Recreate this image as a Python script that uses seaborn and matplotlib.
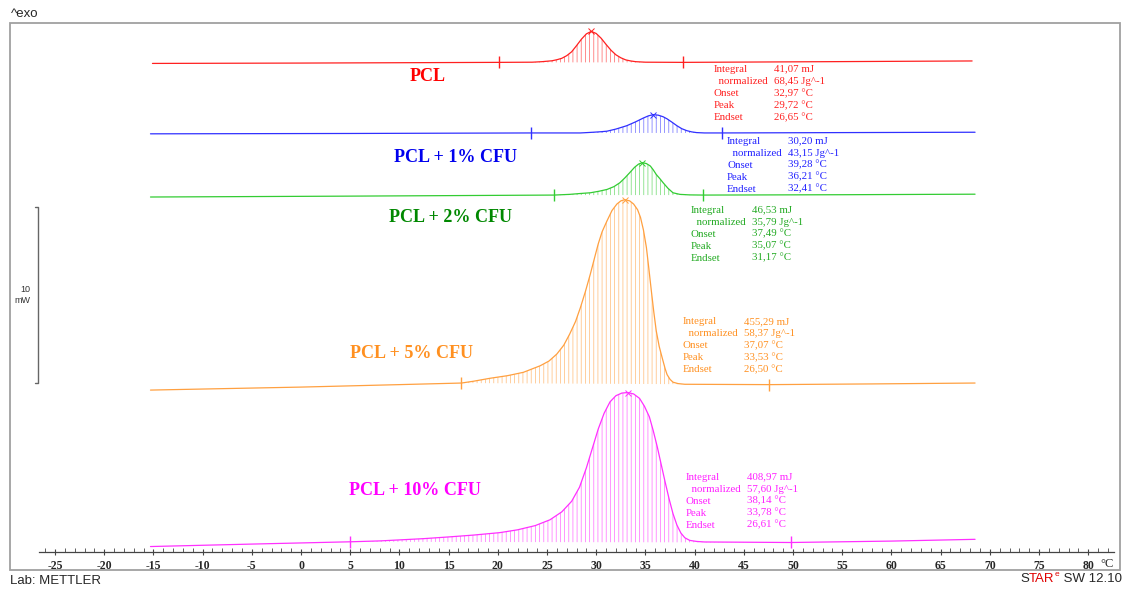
import numpy as np
import pandas as pd
import matplotlib
matplotlib.use('Agg')
import matplotlib.pyplot as plt
import matplotlib.colors as mcolors
from matplotlib.patches import Rectangle
from matplotlib.ticker import MultipleLocator
import seaborn as sns

# ============================================================
# DATA  (temperature in °C, heat flow in mW, stacked by offset)
# ============================================================
names = ['PCL', 'PCL + 1% CFU', 'PCL + 2% CFU', 'PCL + 5% CFU', 'PCL + 10% CFU']
line_colors = ['#ff2020', '#3030ff', '#33cc33', '#ffa040', '#ff30ff']
label_colors = ['#ff0000', '#0000ee', '#008800', '#ff9020', '#ff00ff']
table_colors = ['#ff2020', '#2020ff', '#22aa22', '#ff9020', '#ff20ff']

offsets = [27.82, 23.81, 20.28, 9.57, 0.57]

T_red = [-15.1, 0, 15, 20.1, 23.5, 24.5, 25.5, 26.0, 26.5, 27.0, 27.5, 28.0, 28.5, 29.0,
         29.5, 30.0, 30.5, 31.0, 31.5, 32.0, 32.5, 33.0, 33.5, 34.0, 35.0, 38.8, 50, 68.2]
hf_red = [-0.06, -0.04, -0.01, 0.0, 0.01, 0.04, 0.09, 0.15, 0.23, 0.38, 0.60, 0.95, 1.32, 1.62,
          1.76, 1.64, 1.37, 1.02, 0.69, 0.43, 0.26, 0.14, 0.08, 0.04, 0.01, 0.0, 0.03, 0.08]

T_blue = [-15.3, 5, 23.4, 28.4, 29.7, 30.5, 31.1, 32.0, 33.1, 34.0, 34.8, 35.3, 35.8, 36.3,
          36.8, 37.2, 37.7, 38.2, 38.7, 39.2, 39.7, 40.2, 41.0, 42.8, 55, 68.5]
hf_blue = [-0.05, -0.03, 0.0, 0.0, 0.04, 0.07, 0.10, 0.22, 0.41, 0.63, 0.85, 0.97, 1.04, 1.01,
           0.92, 0.80, 0.61, 0.41, 0.24, 0.13, 0.06, 0.02, 0.0, 0.0, 0.02, 0.04]

T_green = [-15.3, 5, 25.7, 27.3, 28.4, 29.4, 30.3, 31.1, 31.8, 32.4, 32.9, 33.4, 33.9, 34.3,
           34.7, 35.1, 35.5, 35.8, 36.1, 36.5, 36.8, 37.3, 37.8, 38.5, 39.5, 40.9, 55, 68.5]
hf_green = [-0.11, -0.06, 0.0, 0.04, 0.09, 0.13, 0.22, 0.32, 0.48, 0.70, 0.97, 1.27, 1.58, 1.76,
            1.84, 1.79, 1.65, 1.43, 1.17, 0.91, 0.70, 0.38, 0.13, 0.04, 0.01, 0.0, 0.02, 0.05]

T_orange = [-15.3, 0, 10, 16.3, 17.5, 19.2, 21.0, 22.6, 24.3, 25.2, 26.0, 26.7, 27.3, 27.9,
            28.4, 28.9, 29.4, 29.8, 30.2, 30.6, 31.1, 31.6, 32.1, 32.5, 32.9, 33.4, 33.8, 34.2,
            34.5, 34.8, 35.1, 35.35, 35.6, 35.85, 36.1, 36.4, 36.7, 37.0, 37.2, 37.5, 37.8,
            38.3, 39.0, 47.6, 58, 68.5]
hf_orange = [-0.37, -0.2, -0.06, 0.03, 0.13, 0.30, 0.45, 0.64, 1.01, 1.28, 1.68, 2.18, 2.81, 3.53,
             4.33, 5.23, 6.22, 7.08, 7.93, 8.63, 9.25, 9.83, 10.2, 10.38, 10.45, 10.38, 10.2, 9.88,
             9.44, 8.72, 7.73, 6.52, 5.27, 4.07, 2.99, 2.11, 1.47, 0.85, 0.51, 0.24, 0.08,
             0.0, -0.04, -0.06, -0.02, 0.03]

T_mag = [-15.3, -5, 5.0, 8, 10.1, 12.5, 15.1, 17.5, 20.2, 22, 23.8, 25.3, 26.5, 27.5, 28.3,
         29.0, 29.6, 30.2, 30.8, 31.4, 32.0, 32.6, 33.2, 33.8, 34.4, 34.9, 35.4, 35.8, 36.2,
         36.6, 37.0, 37.4, 37.8, 38.2, 38.6, 39.0, 39.5, 40.2, 41, 49.8, 60, 68.5]
hf_mag = [-0.26, -0.12, 0.01, 0.06, 0.12, 0.19, 0.29, 0.39, 0.53, 0.69, 0.93, 1.26, 1.71, 2.31, 3.11,
          4.21, 5.31, 6.41, 7.31, 7.96, 8.31, 8.46, 8.49, 8.41, 8.16, 7.71, 7.11, 6.31, 5.41,
          4.41, 3.41, 2.46, 1.61, 0.96, 0.51, 0.24, 0.09, 0.03, 0.0, -0.03, 0.05, 0.15]

temps = [T_red, T_blue, T_green, T_orange, T_mag]
flows = [hf_red, hf_blue, hf_green, hf_orange, hf_mag]

# integration limits and peak temperature (°C)
limits = [(20.1, 38.8), (23.4, 42.8), (25.7, 40.9), (16.3, 47.6), (5.0, 49.8)]
peaks = [29.5, 35.8, 34.7, 32.9, 33.2]

table_keys = ['Integral', '  normalized', 'Onset', 'Peak', 'Endset']
table_vals = [
    ['41,07 mJ', '68,45 Jg^-1', '32,97 °C', '29,72 °C', '26,65 °C'],
    ['30,20 mJ', '43,15 Jg^-1', '39,28 °C', '36,21 °C', '32,41 °C'],
    ['46,53 mJ', '35,79 Jg^-1', '37,49 °C', '35,07 °C', '31,17 °C'],
    ['455,29 mJ', '58,37 Jg^-1', '37,07 °C', '33,53 °C', '26,50 °C'],
    ['408,97 mJ', '57,60 Jg^-1', '38,14 °C', '33,78 °C', '26,61 °C'],
]
# label and table anchors (°C, mW)
name_pos = [(12.9, 27.0), (15.7, 22.4), (15.2, 19.0), (11.2, 11.3), (11.6, 3.5)]
table_pos = [(41.9, 27.44), (43.3, 23.35), (39.6, 19.43), (38.8, 13.07), (39.1, 4.26)]


def lighten(c, amount):
    rgb = np.array(mcolors.to_rgb(c))
    return tuple(rgb + (1 - rgb) * amount)


# ============================================================
# FIGURE
# ============================================================
sns.set_theme(style='white')
plt.rcParams['font.family'] = ['Liberation Serif', 'DejaVu Serif']
plt.rcParams['axes.unicode_minus'] = False
plt.rcParams['hatch.linewidth'] = 0.6

W, H = 1126, 590
fig = plt.figure(figsize=(W / 100, H / 100), dpi=100)
ax = fig.add_axes([39 / W, (H - 552) / H, (1114 - 39) / W, (552 - 23) / H])
ax.set_xlim(-26.63, 82.62)
ax.set_ylim(0, (552 - 23) / 17.6)

for i in range(5):
    T = np.array(temps[i])
    y = np.array(flows[i]) + offsets[i]
    df = pd.DataFrame({'T': T, 'hf': y})
    sns.lineplot(data=df, x='T', y='hf', color=line_colors[i], lw=0.9,
                 sort=False, estimator=None, ax=ax, zorder=3)

    lo, hi = limits[i]
    mask = (T >= lo) & (T <= hi)
    y_lo = np.interp(lo, T, y)
    y_hi = np.interp(hi, T, y)
    base = np.interp(T[mask], [lo, hi], [y_lo, y_hi])
    hc = lighten(line_colors[i], 0.4)
    ax.fill_between(T[mask], y[mask], base, facecolor='none', edgecolor=hc,
                    hatch='||||', linewidth=0, zorder=1)
    ax.plot([lo, hi], [y_lo, y_hi], ls='none', marker='|', ms=8, mew=1.0,
            color=line_colors[i], zorder=4)
    ax.plot([peaks[i]], [np.interp(peaks[i], T, y)], ls='none', marker='x', ms=4,
            mew=0.7, color=line_colors[i], zorder=4)

    ax.text(*name_pos[i], names[i], color=label_colors[i], fontsize=13,
            fontweight='bold', ha='center', va='center')
    tx, ty = table_pos[i]
    for r, (k, v) in enumerate(zip(table_keys, table_vals[i])):
        ax.text(tx, ty - r * 12 / 17.6, k, color=table_colors[i], fontsize=7.8,
                ha='left', va='center')
        ax.text(tx + 6.2, ty - r * 12 / 17.6, v, color=table_colors[i], fontsize=7.8,
                ha='left', va='center')

# 10 mW scale bar
sb_x = (38 - 301) / 9.84
ax.plot([sb_x - 0.3, sb_x, sb_x, sb_x - 0.3], [9.6, 9.6, 19.6, 19.6], color='#666666',
        lw=1.0, clip_on=False)
ax.text(sb_x - 0.8, 14.6, '10\nmW', fontsize=6.5, family='Liberation Sans', color='#333333',
        ha='right', va='center', linespacing=1.3)

# axes styling
for s in ['left', 'right', 'top']:
    ax.spines[s].set_visible(False)
ax.spines['bottom'].set_color('#444444')
ax.spines['bottom'].set_linewidth(0.9)
ax.set_yticks([])
ax.set_xlabel('')
ax.set_ylabel('')
ax.xaxis.set_minor_locator(MultipleLocator(1))
ax.set_xticks([t for t in range(-25, 85, 5)])
ax.tick_params(axis='x', which='major', direction='inout', length=5, width=0.8,
               color='#444444', pad=3.5, bottom=True)
ax.tick_params(axis='x', which='minor', direction='in', length=3, width=0.6,
               color='#444444', bottom=True)
for lab in ax.get_xticklabels():
    lab.set_fontweight('bold')
    lab.set_fontsize(8.5)
ax.text(1.0, -12 / 529, '°C', transform=ax.transAxes, fontsize=9, ha='right', va='center')

# frame and header / footer
fig.add_artist(Rectangle((10 / W, (H - 570) / H), (1120 - 10) / W, (570 - 23) / H,
                         transform=fig.transFigure, fill=False, ec='#a0a0a0', lw=1.3))
sans = 'Liberation Sans'
fig.text(11 / W, 1 - 14 / H, '^exo', fontsize=9.5, family=sans, ha='left', va='center')
fig.text(10 / W, 1 - 581 / H, 'Lab: METTLER', fontsize=9.5, family=sans, ha='left', va='center')
t_s = fig.text(1020 / W, 1 - 582 / H, 'S', fontsize=9.5, family=sans, ha='left',
               va='baseline')
t_tar = ax.annotate('TAR', xy=(1, 0), xycoords=t_s, fontsize=9.5, family=sans,
                    color='#e00000', ha='left', va='bottom', annotation_clip=False)
t_e = ax.annotate('e', xy=(1, 0.55), xycoords=t_tar, fontsize=6, family=sans,
                  color='#e00000', ha='left', va='bottom', annotation_clip=False)
ax.annotate(' SW 12.10', xy=(1, 0), xycoords=t_tar, xytext=(4, 0), textcoords='offset points',
            fontsize=9.5, family=sans, ha='left', va='bottom', annotation_clip=False)

fig.savefig('out.png', dpi=100)
